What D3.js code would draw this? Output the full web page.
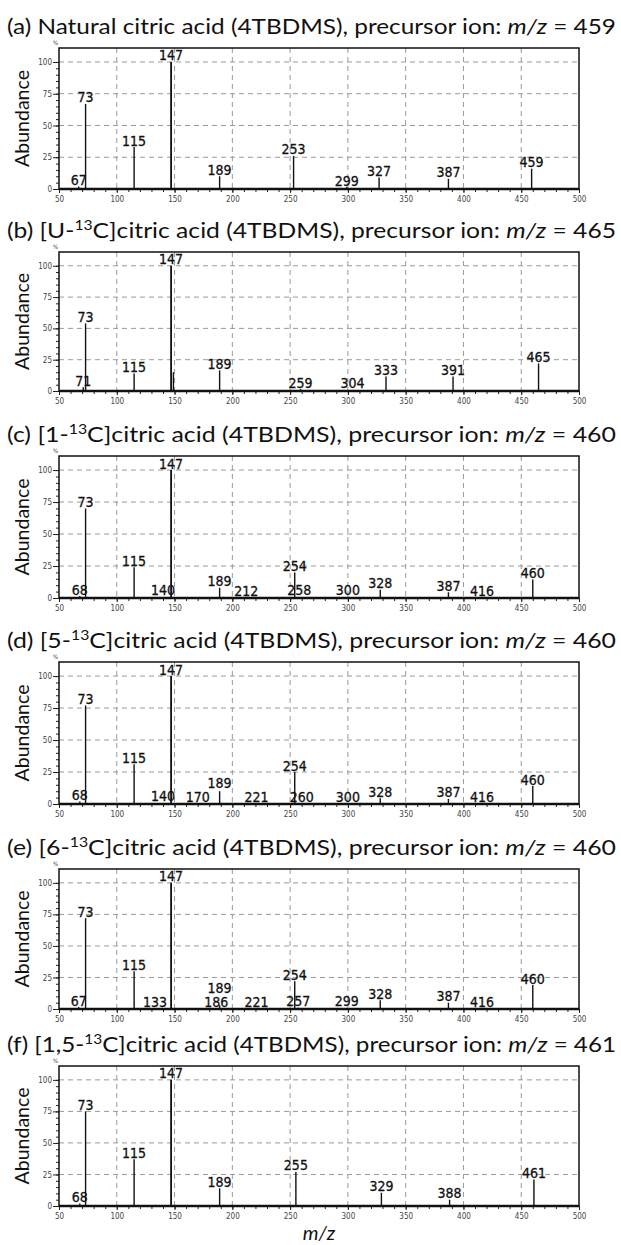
<!DOCTYPE html>
<html>
<head>
<meta charset="utf-8">
<script src="https://cdn.jsdelivr.net/npm/d3@7"></script>
<style>
  body { margin: 0; background: #fff; }
  svg { display: block; }
  .title { font-family: Lato, "Open Sans", sans-serif; font-size: 22px; fill: #111; }
  .ylab { font-family: Lato, "Open Sans", sans-serif; font-size: 20px; fill: #111; }
  .peak-label { font-family: "Liberation Sans Narrow", "DejaVu Sans Condensed", sans-serif; font-size: 14px; fill: #111; stroke: #111; stroke-width: 0.3px; }
  .tick text { font-family: "Liberation Sans Narrow", "DejaVu Sans Condensed", sans-serif; font-size: 8px; fill: #444; }
</style>
</head>
<body>
<svg id="chart" width="621" height="1245"></svg>
<script>
// m/z ticks and abundance ticks
var xTicks = [50, 100, 150, 200, 250, 300, 350, 400, 450, 500];
var yTicks = [0, 25, 50, 75, 100];

// (a) natural citric acid, precursor 459
var mzA = [67, 73, 115, 147, 189, 253, 299, 327, 387, 459];
var abA = [2, 67, 33, 100, 10, 26, 1.5, 9, 8, 16];

// (b) [U-13C], precursor 465
var mzB = [71, 73, 115, 147, 149, 189, 259, 304, 333, 391, 465];
var abB = [3, 54, 14, 100, 15, 16.5, 1.5, 0.8, 11.5, 11.5, 22];
var unlabeledB = [149];

// (c) [1-13C], precursor 460
var mzC = [68, 73, 115, 140, 147, 189, 212, 254, 258, 300, 328, 387, 416, 460];
var abC = [1.5, 70, 24, 0.8, 100, 8, 0.5, 20, 0.8, 1, 6.5, 4.5, 0.5, 14.5];

// (d) [5-13C], precursor 460
var mzD = [68, 73, 115, 140, 147, 170, 189, 221, 254, 260, 300, 328, 387, 416, 460];
var abD = [2, 77, 31, 0.8, 100, 0.3, 10, 0.3, 25, 0.6, 0.6, 4.5, 4, 0.3, 14];

// (e) [6-13C], precursor 460
var mzE = [67, 73, 115, 133, 147, 186, 189, 221, 254, 257, 299, 328, 387, 416, 460];
var abE = [1.5, 72, 30, 0.5, 100, 0.6, 3, 0.3, 22, 1, 0.8, 7, 5, 0.5, 19];

// (f) [1,5-13C], precursor 461
var mzF = [68, 73, 115, 147, 189, 255, 329, 388, 461];
var abF = [2, 75, 37, 100, 14, 27, 10.5, 5, 21];

var panels = [
    { pre: "(a) Natural citric acid (4TBDMS), precursor ion: ", sup: null, post: "", ion: 459, mz: mzA, ab: abA, skip: [] },
    { pre: "(b) [U-", sup: "13", post: "C]citric acid (4TBDMS), precursor ion: ", ion: 465, mz: mzB, ab: abB, skip: unlabeledB },
    { pre: "(c) [1-", sup: "13", post: "C]citric acid (4TBDMS), precursor ion: ", ion: 460, mz: mzC, ab: abC, skip: [] },
    { pre: "(d) [5-", sup: "13", post: "C]citric acid (4TBDMS), precursor ion: ", ion: 460, mz: mzD, ab: abD, skip: [] },
    { pre: "(e) [6-", sup: "13", post: "C]citric acid (4TBDMS), precursor ion: ", ion: 460, mz: mzE, ab: abE, skip: [] },
    { pre: "(f) [1,5-", sup: "13", post: "C]citric acid (4TBDMS), precursor ion: ", ion: 461, mz: mzF, ab: abF, skip: [] }
];

// layout of the six stacked plots
var tops = [48, 252, 456, 662, 869, 1066];
var bases = [189, 391, 598, 804, 1009, 1206];
var left = 59, right = 579;

var svg = d3.select("#chart");

panels.forEach(function(p, i) {
    var g = svg.append("g");
    var x = d3.scaleLinear().domain([50, 500]).range([left, right]);
    var y = d3.scaleLinear().domain([0, 111]).range([bases[i], tops[i]]);

    // title
    var t = g.append("text").attr("class", "title")
        .attr("x", 7).attr("y", tops[i] - 14)
        .attr("textLength", 609).attr("lengthAdjust", "spacingAndGlyphs");
    if (p.sup) {
        t.append("tspan").text(p.pre);
        t.append("tspan").attr("font-size", "14px").attr("dy", -8).text(p.sup);
        t.append("tspan").attr("dy", 8).text(p.post);
    } else {
        t.append("tspan").text(p.pre);
    }
    t.append("tspan").attr("font-style", "italic").text("m/z");
    t.append("tspan").text(" = " + p.ion);

    // y label
    var cy = (tops[i] + bases[i]) / 2;
    g.append("text").attr("class", "ylab")
        .attr("transform", "translate(29," + cy + ") rotate(-90)")
        .attr("text-anchor", "middle")
        .attr("textLength", 97).attr("lengthAdjust", "spacingAndGlyphs")
        .text("Abundance");

    g.append("text")
        .attr("x", 53).attr("y", tops[i] - 3)
        .attr("font-size", "6px").attr("fill", "#444")
        .attr("font-family", "DejaVu Sans Condensed, sans-serif")
        .text("%");

    // dashed grid
    g.selectAll(".vgrid").data(xTicks.slice(1, -1)).enter().append("line")
        .attr("x1", d => x(d)).attr("x2", d => x(d))
        .attr("y1", tops[i]).attr("y2", bases[i])
        .attr("stroke", "#999").attr("stroke-width", 1).attr("stroke-dasharray", "5,4");
    g.selectAll(".hgrid").data(yTicks.slice(1)).enter().append("line")
        .attr("x1", left).attr("x2", right)
        .attr("y1", d => y(d)).attr("y2", d => y(d))
        .attr("stroke", "#999").attr("stroke-width", 1).attr("stroke-dasharray", "5,4");

    // axes
    var xMinor = d3.axisBottom(x).tickValues(d3.range(50, 501, 10)).tickSize(3).tickFormat("");
    var xMajor = d3.axisBottom(x).tickValues(xTicks).tickSize(4).tickPadding(3);
    var yMinor = d3.axisLeft(y).tickValues(d3.range(0, 101, 5)).tickSize(3).tickFormat("");
    var yMajor = d3.axisLeft(y).tickValues(yTicks).tickSize(6).tickPadding(1);

    [xMinor, xMajor].forEach(function(ax) {
        g.append("g").attr("transform", "translate(0," + bases[i] + ")").call(ax)
            .call(s => s.select(".domain").remove());
    });
    [yMinor, yMajor].forEach(function(ax) {
        g.append("g").attr("transform", "translate(" + left + ",0)").call(ax)
            .call(s => s.select(".domain").remove());
    });
    g.selectAll(".tick line").attr("stroke", "#222");

    // frame
    g.append("rect")
        .attr("x", left).attr("y", tops[i])
        .attr("width", right - left).attr("height", bases[i] - tops[i])
        .attr("fill", "none").attr("stroke", "#111").attr("stroke-width", 1.5);
    g.append("line")
        .attr("x1", left).attr("x2", right)
        .attr("y1", bases[i]).attr("y2", bases[i])
        .attr("stroke", "#111").attr("stroke-width", 2.5);

    // sticks
    var peaks = p.mz.map((m, k) => ({ mz: m, ab: p.ab[k] }));
    g.selectAll(".peak").data(peaks).enter().append("line")
        .attr("x1", d => x(d.mz)).attr("x2", d => x(d.mz))
        .attr("y1", bases[i]).attr("y2", d => y(d.ab))
        .attr("stroke", "#111").attr("stroke-width", d => d.ab > 90 ? 1.8 : 1.4);

    // peak labels, pushed up when they would overlap
    var placed = [];
    peaks.filter(d => p.skip.indexOf(d.mz) < 0).forEach(function(d) {
        var lab = g.append("text").attr("class", "peak-label")
            .attr("text-anchor", "middle")
            .attr("x", x(d.mz))
            .text(d.mz);
        var w = lab.node().getComputedTextLength();
        var h = 14;
        var by = y(d.ab) - 1.5;
        var moved = true;
        while (moved) {
            moved = false;
            placed.forEach(function(b) {
                var overlapX = Math.abs(b.x - x(d.mz)) < (b.w + w) / 2;
                var overlapY = by > b.y - h && by - h < b.y;
                if (overlapX && overlapY) {
                    by = b.y - h;
                    moved = true;
                }
            });
        }
        lab.attr("y", by);
        placed.push({ x: x(d.mz), y: by, w: w });
    });
});

svg.append("text")
    .attr("x", (left + right) / 2).attr("y", 1240)
    .attr("text-anchor", "middle")
    .attr("font-family", "Lato, 'Open Sans', sans-serif")
    .attr("font-size", "20px").attr("font-style", "italic").attr("fill", "#111")
    .text("m/z");
</script>
</body>
</html>
